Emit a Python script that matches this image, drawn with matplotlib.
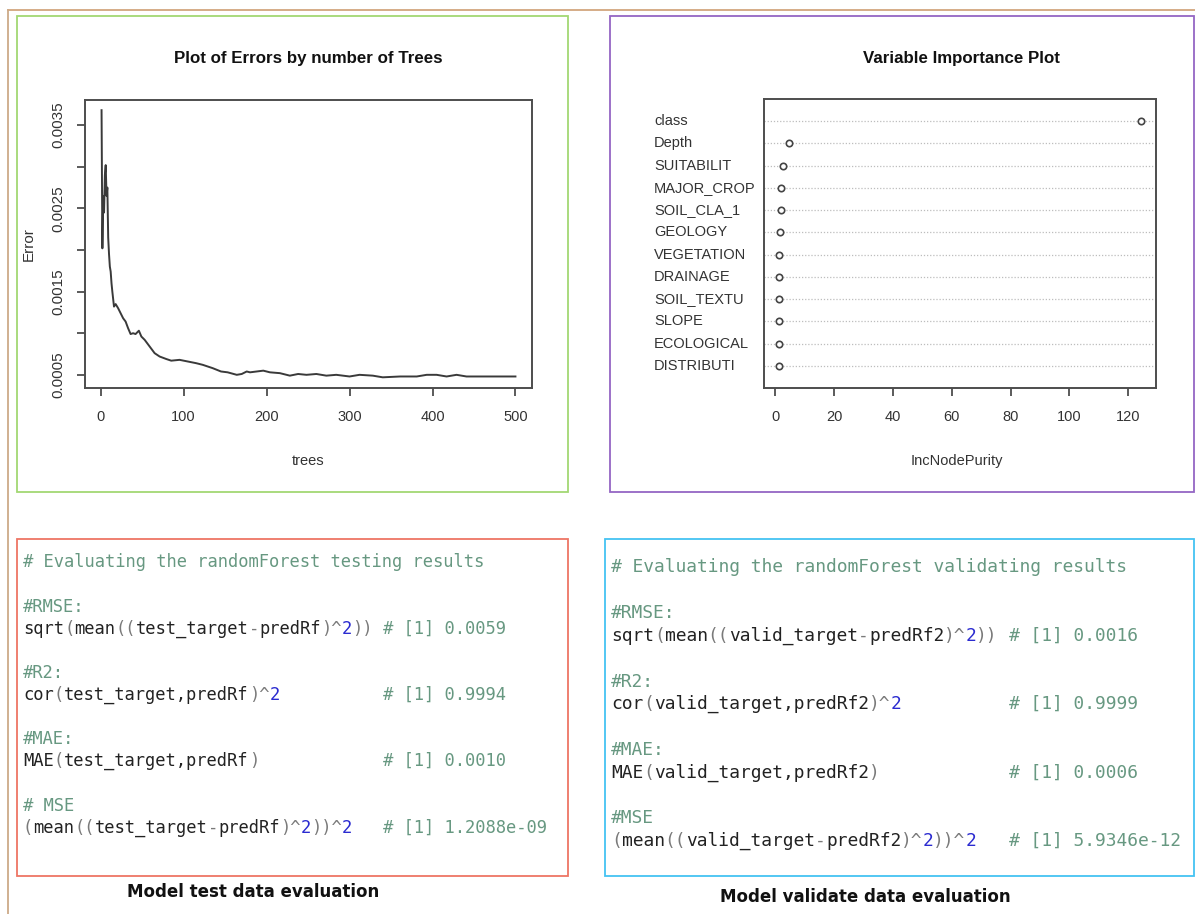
import matplotlib
matplotlib.use("Agg")
import matplotlib.pyplot as plt
from matplotlib.patches import Rectangle
from matplotlib.lines import Line2D
from matplotlib.transforms import blended_transform_factory

W, H = 1195, 914

# error rate of the forest vs number of trees
trees = [1, 2, 3, 4, 5, 6, 7, 8, 9, 10, 11, 12, 13, 14,
         16, 18, 21, 23, 27, 30, 33, 36, 39, 42,
         46, 49, 53, 59, 65, 71, 79, 85, 95, 105,
         115, 123, 135, 145, 153, 164, 170, 176, 180, 188,
         196, 204, 216, 228, 238, 248, 260, 272, 284, 300,
         312, 328, 340, 361, 381, 393, 405, 417, 429, 441,
         453, 474, 500]
errors = [0.00368, 0.00202, 0.00265, 0.00245, 0.00290, 0.00302, 0.00265, 0.00275, 0.00215, 0.00195, 0.00180, 0.00174, 0.00160, 0.00150,
          0.00132, 0.00135, 0.00130, 0.00126, 0.00118, 0.00114, 0.00106, 0.00099, 0.00100, 0.00099,
          0.00103, 0.00096, 0.00092, 0.00084, 0.00076, 0.00072, 0.00069, 0.00067, 0.00068, 0.00066,
          0.00064, 0.00062, 0.00058, 0.00054, 0.00053, 0.00050, 0.00051, 0.00054, 0.00053, 0.00054,
          0.00055, 0.00053, 0.00052, 0.00049, 0.00051, 0.00050, 0.00051, 0.00049, 0.00050, 0.00048,
          0.00050, 0.00049, 0.00047, 0.00048, 0.00048, 0.00050, 0.00050, 0.00048, 0.00050, 0.00048,
          0.00048, 0.00048, 0.00048]
err_ticks = [0.0005, 0.0010, 0.0015, 0.0020, 0.0025, 0.0030, 0.0035]
err_ticklabels = ["0.0005", "", "0.0015", "", "0.0025", "", "0.0035"]
tree_ticks = [0, 100, 200, 300, 400, 500]

# variable importance (IncNodePurity)
variables = ["class", "Depth", "SUITABILIT", "MAJOR_CROP", "SOIL_CLA_1", "GEOLOGY",
             "VEGETATION", "DRAINAGE", "SOIL_TEXTU", "SLOPE", "ECOLOGICAL", "DISTRIBUTI"]
importance = [124.5, 4.5, 2.7, 1.9, 1.9, 1.7, 1.2, 1.2, 1.2, 1.1, 1.1, 1.2]
purity_ticks = [0, 20, 40, 60, 80, 100, 120]

# evaluation snippets
test_header = "# Evaluating the randomForest testing results"
test_names = ["#RMSE:", "#R2:", "#MAE:", "# MSE"]
test_exprs = ["sqrt(mean((test_target-predRf)^2))", "cor(test_target,predRf)^2",
              "MAE(test_target,predRf)", "(mean((test_target-predRf)^2))^2"]
test_results = ["0.0059", "0.9994", "0.0010", "1.2088e-09"]

valid_header = "# Evaluating the randomForest validating results"
valid_names = ["#RMSE:", "#R2:", "#MAE:", "#MSE"]
valid_exprs = ["sqrt(mean((valid_target-predRf2)^2))", "cor(valid_target,predRf2)^2",
               "MAE(valid_target,predRf2)", "(mean((valid_target-predRf2)^2))^2"]
valid_results = ["0.0016", "0.9999", "0.0006", "5.9346e-12"]

ARIAL = ["Liberation Sans", "DejaVu Sans"]
MONO = ["DejaVu Sans Mono"]
AXCOL = "#4d4d4d"
TXT = "#333333"

fig = plt.figure(figsize=(W / 100, H / 100), dpi=100)


def fx(px):
    return px / W


def fy(py):
    return 1 - py / H


def add_box(x0, y0, x1, y1, color):
    fig.add_artist(Rectangle((fx(x0), fy(y1)), fx(x1) - fx(x0), fy(y0) - fy(y1),
                             transform=fig.transFigure, fill=False,
                             edgecolor=color, linewidth=1.3))


def r_axes(x0, y0, x1, y1):
    ax = fig.add_axes([fx(x0), fy(y1), fx(x1) - fx(x0), fy(y0) - fy(y1)])
    for s in ax.spines.values():
        s.set_color(AXCOL)
        s.set_linewidth(1.4)
    ax.tick_params(direction="out", length=6, width=1.3, color=AXCOL)
    return ax


def pad4(lo, hi):
    d = (hi - lo) * 0.04
    return lo - d, hi + d


# outer frame lines
fig.add_artist(Line2D([fx(7.5), 1], [fy(10), fy(10)], transform=fig.transFigure,
                      color="#d2a67e", linewidth=1.3))
fig.add_artist(Line2D([fx(7.5), fx(7.5)], [fy(10), 0], transform=fig.transFigure,
                      color="#cdaa88", linewidth=1.3))

# panel borders
add_box(17, 15.5, 567.5, 491.5, "#a3d873")
add_box(609.5, 15.5, 1193.5, 491.5, "#9466c4")
add_box(17, 538.5, 567.5, 876, "#ee7565")
add_box(605, 538.5, 1193.5, 876, "#44c3f2")

# --- error vs trees
ax1 = r_axes(85, 99.5, 532, 388)
ax1.plot(trees, errors, color="#3a3a3a", linewidth=1.4)
ax1.set_xlim(*pad4(min(trees), max(trees)))
ax1.set_ylim(*pad4(min(errors), max(errors)))
ax1.set_xticks(tree_ticks)
ax1.set_xticklabels([str(t) for t in tree_ticks], fontfamily=ARIAL, fontsize=10.5, color=TXT)
ax1.set_yticks(err_ticks)
ax1.set_yticklabels(err_ticklabels, fontfamily=ARIAL, fontsize=11, color=TXT,
                    rotation=90, va="center")
ax1.tick_params(axis="x", pad=10)
ax1.tick_params(axis="y", pad=8)
fig.text(fx(308), fy(59), "Plot of Errors by number of Trees", fontfamily=ARIAL,
         fontweight="bold", fontsize=12.2, ha="center", va="center", color="#111111")
fig.text(fx(308), fy(461), "trees", fontfamily=ARIAL, fontsize=10.5,
         ha="center", va="center", color=TXT)
fig.text(fx(29), fy(244), "Error", fontfamily=ARIAL, fontsize=11, rotation=90,
         ha="center", va="center", color=TXT)

# --- variable importance dotchart
ax2 = r_axes(764, 99, 1156, 388)
n = len(variables)
rows = list(range(n, 0, -1))
for r in rows:
    ax2.axhline(r, color="#bdbdbd", linestyle=(0, (1, 1.5)), linewidth=0.9, zorder=1)
ax2.plot(importance, rows, linestyle="none", marker="o", markersize=4.6,
         markerfacecolor="white", markeredgecolor="#444444", markeredgewidth=1.2, zorder=3)
ax2.set_xlim(*pad4(min(importance), max(importance)))
ax2.set_ylim(0, n + 1)
ax2.set_yticks([])
ax2.set_xticks(purity_ticks)
ax2.set_xticklabels([str(t) for t in purity_ticks], fontfamily=ARIAL, fontsize=10.5, color=TXT)
ax2.tick_params(axis="x", pad=10)
lab_tr = blended_transform_factory(fig.transFigure, ax2.transData)
for name, r in zip(variables, rows):
    ax2.text(fx(654), r, name, transform=lab_tr, fontfamily=ARIAL, fontsize=10.5,
             ha="left", va="center", color=TXT, clip_on=False)
fig.text(fx(961), fy(59), "Variable Importance Plot", fontfamily=ARIAL,
         fontweight="bold", fontsize=12.2, ha="center", va="center", color="#111111")
fig.text(fx(957), fy(461), "IncNodePurity", fontfamily=ARIAL, fontsize=10.5,
         ha="center", va="center", color=TXT)

# --- code panels
C_CODE = "#222222"
C_PUNCT = "#7a7a7a"
C_NUM = "#2b2bd0"
C_COMMENT = "#679881"


def char_colors(line):
    if line.lstrip().startswith("#"):
        return [C_COMMENT] * len(line)
    cols = []
    cut = line.find("#")
    for i, ch in enumerate(line):
        if cut >= 0 and i >= cut:
            cols.append(C_COMMENT)
        elif ch in "()^-":
            cols.append(C_PUNCT)
        elif ch.isdigit() and i > 0 and line[i - 1] == "^":
            cols.append(C_NUM)
        else:
            cols.append(C_CODE)
    return cols


def draw_code(line, x0, y, size):
    cw = size * 100 / 72 * 0.6021
    cols = char_colors(line)
    i = 0
    while i < len(line):
        j = i
        while j < len(line) and cols[j] == cols[i]:
            j += 1
        seg = line[i:j]
        if seg.strip():
            fig.text(fx(x0 + i * cw), fy(y), seg, fontfamily=MONO, fontsize=size,
                     color=cols[i], ha="left", va="center")
        i = j


def code_panel(header, names, exprs, results, width, x0, ys, size):
    lines = [header]
    for nm, ex, rs in zip(names, exprs, results):
        lines.append(nm)
        lines.append(ex.ljust(width) + "# [1] " + rs)
    for line, y in zip(lines, ys):
        draw_code(line, x0, y, size)


code_panel(test_header, test_names, test_exprs, test_results, 35, 23,
           [562, 607, 629, 673, 695, 739, 761, 806, 828], 12.3)
code_panel(valid_header, valid_names, valid_exprs, valid_results, 37, 611,
           [567, 613, 636, 682, 704, 750, 773, 818, 841], 12.85)

fig.text(fx(253), fy(892), "Model test data evaluation", fontfamily=["DejaVu Sans"],
         fontweight="bold", fontsize=12, ha="center", va="center", color="#111111")
fig.text(fx(865), fy(897), "Model validate data evaluation", fontfamily=["DejaVu Sans"],
         fontweight="bold", fontsize=12, ha="center", va="center", color="#111111")

fig.savefig("out.png", dpi=100)
